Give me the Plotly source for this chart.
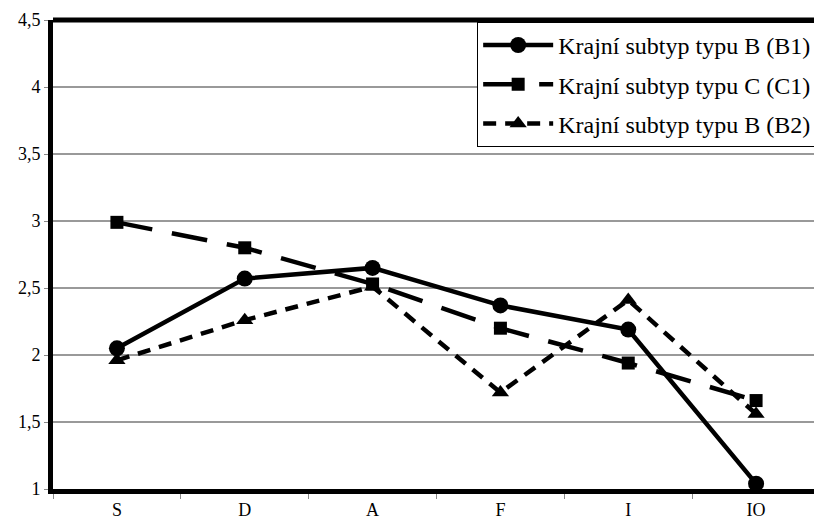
import plotly.graph_objects as go

categories = ["S", "D", "A", "F", "I", "IO"]
b1_values = [2.05, 2.57, 2.65, 2.37, 2.19, 1.04]
c1_values = [2.99, 2.80, 2.53, 2.20, 1.94, 1.66]
b2_values = [1.96, 2.26, 2.51, 1.72, 2.41, 1.56]
series_names = ["Krajní subtyp typu B (B1)", "Krajní subtyp typu C (C1)", "Krajní subtyp typu B (B2)"]

FONT = "Liberation Serif, Times New Roman, serif"

fig = go.Figure()
fig.add_trace(go.Scatter(x=categories, y=b1_values, name=series_names[0], mode="lines+markers",
                         legendgroup="g1",
                         line=dict(color="black", width=4.5), marker=dict(symbol="circle", size=16, color="black")))
fig.add_trace(go.Scatter(x=categories, y=c1_values, name=series_names[1], mode="lines+markers",
                         legendgroup="g2",
                         line=dict(color="black", width=4.5, dash="36px,20px"),
                         marker=dict(symbol="square", size=13, color="black")))
fig.add_trace(go.Scatter(x=categories, y=b2_values, name=series_names[2], mode="lines+markers",
                         legendgroup="g3",
                         line=dict(color="black", width=4.5, dash="13px,9px"),
                         marker=dict(symbol="triangle-up", size=15, color="black")))

fig.update_layout(
    width=814, height=515,
    margin=dict(l=45, r=2, t=8, b=34),
    paper_bgcolor="white", plot_bgcolor="white",
    separators=", ",
    font=dict(family=FONT, size=18, color="black"),
    legend=dict(x=0.995, y=0.996, xanchor="right", yanchor="top",
                bgcolor="white", bordercolor="black", borderwidth=1,
                font=dict(family=FONT, size=24), itemwidth=70,
                traceorder="grouped", tracegroupgap=5),
    xaxis=dict(type="category", range=[-0.5, 5.5], showgrid=False, showline=True,
               linecolor="black", linewidth=5, ticks="outside", tickson="boundaries",
               ticklen=5, tickcolor="#888", tickfont=dict(family=FONT, size=18), zeroline=False),
    yaxis=dict(range=[1, 4.5], dtick=0.5, tick0=1, showgrid=True, gridcolor="#999", gridwidth=2,
               showline=True, linecolor="black", linewidth=5, ticks="outside", ticklen=4,
               tickcolor="#888", tickfont=dict(family=FONT, size=18), zeroline=False,
               ticklabeloverflow="allow"),
    shapes=[
        dict(type="line", xref="paper", yref="paper", x0=0, x1=1, y0=1, y1=1,
             line=dict(color="black", width=5)),
        dict(type="line", xref="paper", yref="paper", x0=1, x1=1, y0=0, y1=1,
             line=dict(color="#777", width=1)),
    ],
)

fig.write_html("out.html")
